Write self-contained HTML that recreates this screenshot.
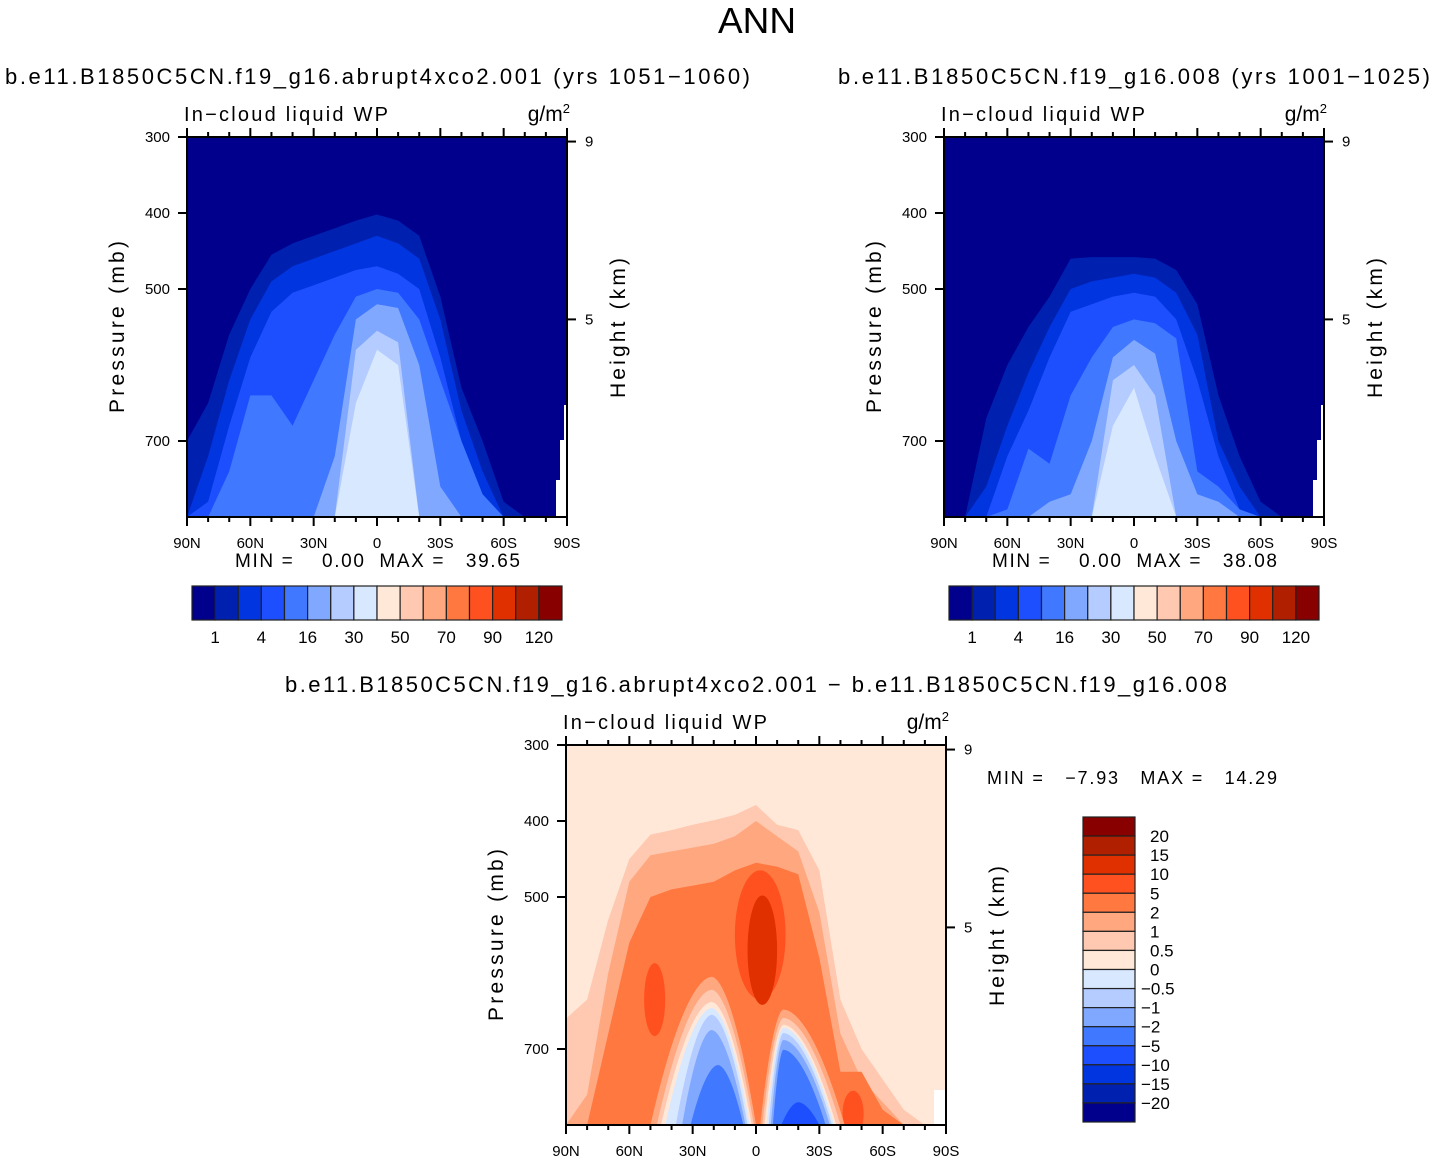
<!DOCTYPE html>
<html><head><meta charset="utf-8">
<style>
html,body{margin:0;padding:0;background:#fff;}
svg{display:block;font-family:"Liberation Sans",Arial,sans-serif;}
text{white-space:pre;}
</style></head>
<body>
<svg id="fig" width="1434" height="1163" viewBox="0 0 1434 1163" xmlns="http://www.w3.org/2000/svg">
<text x="757" y="33" font-size="36" text-anchor="middle" textLength="78" lengthAdjust="spacingAndGlyphs">ANN</text>
<text x="5" y="84" font-size="22" textLength="745" lengthAdjust="spacing">b.e11.B1850C5CN.f19_g16.abrupt4xco2.001 (yrs 1051−1060)</text>
<text x="838" y="84" font-size="22" textLength="592" lengthAdjust="spacing">b.e11.B1850C5CN.f19_g16.008 (yrs 1001−1025)</text>
<text x="285" y="692" font-size="22" textLength="942" lengthAdjust="spacing">b.e11.B1850C5CN.f19_g16.abrupt4xco2.001 − b.e11.B1850C5CN.f19_g16.008</text>
<g id="p1"></g>
<g id="p2"></g>
<g id="p3"></g>
</svg>
<script>
const NS="http://www.w3.org/2000/svg";
const colors=["#00008c","#0020b0","#0035e0","#1e4fff","#4078ff","#80a8ff","#b4ccff","#d8e8ff","#ffe8d8","#ffc8b0","#ffa880","#ff7840","#ff5020","#e03000","#b02000","#880000"];
const lats=[90,80,70,60,50,40,30,20,10,0,-10,-20,-30,-40,-50,-60,-70,-80,-90];
const xTickLabels=["90N","60N","30N","0","30S","60S","90S"];
const pTicks=[300,400,500,700];
const hTicks=[[9,306],[5,540]];
const cbLabelsAbs=["1","4","16","30","50","70","90","120"];
const cbLabelsDiff=["20","15","10","5","2","1","0.5","0","−0.5","−1","−2","−5","−10","−15","−20"];
// panel 1 level tops (mb) at lats
const p1L1=[700,650,560,500,455,440,430,420,410,402,410,430,510,630,700,780,800,800,800];
const p1L2=[800,720,620,540,490,470,460,450,440,430,440,460,540,660,740,800,800,800,800];
const p1L3=[800,780,680,590,530,505,495,485,475,470,480,500,590,700,770,800,800,800,800];
const p1L4=[800,800,740,640,640,680,620,560,510,500,505,540,620,700,770,800,800,800,800];
const p1L5=[800,800,800,800,800,800,800,720,540,520,525,600,760,800,800,800,800,800,800];
const p1L6=[800,800,800,800,800,800,800,800,580,555,570,800,800,800,800,800,800,800,800];
const p1L7=[800,800,800,800,800,800,800,800,650,580,600,800,800,800,800,800,800,800,800];
// panel 2
const p2L1=[800,800,670,600,550,510,460,458,458,458,460,475,520,640,720,780,800,800,800];
const p2L2=[800,800,760,680,610,550,500,490,485,480,485,505,560,700,760,800,800,800,800];
const p2L3=[800,800,800,720,660,590,530,520,510,505,510,540,620,720,790,800,800,800,800];
const p2L4=[800,800,800,790,710,730,640,590,550,540,545,565,740,760,790,800,800,800,800];
const p2L5=[800,800,800,800,800,780,770,700,590,567,585,700,770,780,800,800,800,800,800];
const p2L6=[800,800,800,800,800,800,800,800,620,600,640,800,800,800,800,800,800,800,800];
const p2L7=[800,800,800,800,800,800,800,800,680,630,720,800,800,800,800,800,800,800,800];
// panel 3 positive levels
const p3L1=[660,635,530,450,418,412,405,399,392,379,405,412,465,635,700,740,780,800,800];
const p3L2=[800,760,600,480,445,440,435,430,420,400,420,440,520,680,740,770,800,800,800];
const p3L3=[800,800,680,560,500,490,485,480,465,455,460,470,580,730,730,780,800,800,800];
// blobs: lat, p, lat radius, p radius, color index
const blobLat=[48,-2,-46,-3];
const blobP=[635,550,785,570];
const blobRLat=[5,12,5,7];
const blobRP=[48,85,30,72];
const blobColor=[12,12,12,13];
// negative mounds: left lat, peak lat, right lat, top p, color index
const moundLeft=[50,47,45,43,38,35,31,-2,-3,-4,-5,-6,-7,-8,-12];
const moundPeak=[21,21,21,21,21,21,18,-13,-13,-13,-13,-13,-13,-13,-20];
const moundRight=[0,1,2,3,4,5,6,-42,-40,-38,-37,-36,-35,-33,-30];
const moundTop=[605,622,638,646,655,675,721,648,659,668,672,679,688,701,770];
const moundColor=[10,9,8,7,6,5,4,10,9,8,7,6,5,4,3];

function el(tag,attrs,parent,name){const e=document.createElementNS(NS,tag);for(const k in attrs)e.setAttribute(k,attrs[k]);


parent.appendChild(e);return e;}

function makePanel(g,x0,y0,opts){
  const W=380,H=380;
  const X=lat=>x0+(90-lat)/180*W;
  const Y=p=>y0+(p-300)/500*H;
  const cp=el('clipPath',{id:'c'+opts.id},g,'clip');
  el('rect',{x:x0,y:y0,width:W,height:H},cp,'clip-rect');
  const plot=el('g',{'clip-path':'url(#c'+opts.id+')'},g,'contour-area');
  el('rect',{x:x0,y:y0,width:W,height:H,fill:colors[opts.bg]},plot,'background-level');
  opts.levels.forEach((arr,i)=>{
    let pts=[[X(90),Y(800)]];
    lats.forEach((la,j)=>pts.push([X(la),Y(arr[j])]));
    pts.push([X(-90),Y(800)]);
    el('polygon',{points:pts.map(q=>q.join(',')).join(' '),fill:colors[opts.levelColors[i]]},plot,'contour-level-'+(i+1));
  });
  if(opts.blobs){
    blobLat.forEach((la,i)=>{
      el('ellipse',{cx:X(la),cy:Y(blobP[i]),rx:blobRLat[i]/180*W,ry:blobRP[i]/500*H,fill:colors[blobColor[i]]},plot,'contour-blob');
    });
    moundLeft.forEach((l,i)=>{
      const pk=moundPeak[i],r=moundRight[i],top=moundTop[i];const pts=[];
      for(let k=0;k<=16;k++){const t=1-k/16;const la=pk+(l-pk)*t;pts.push([X(la),Y(top+(800-top)*Math.pow(t,1.8))]);}
      for(let k=1;k<=16;k++){const t=k/16;const la=pk+(r-pk)*t;pts.push([X(la),Y(top+(800-top)*Math.pow(t,1.8))]);}
      pts.push([X(r),Y(820)]);pts.push([X(l),Y(820)]);
      el('polygon',{points:pts.map(q=>q.join(',')).join(' '),fill:colors[moundColor[i]]},plot,'negative-contour');
    });
  }
  if(opts.mask){
    el('path',{d:`M${x0+369} ${y0+380} V${y0+343} H${x0+373} V${y0+303} H${x0+377} V${y0+268} H${x0+380} V${y0+380} Z`,fill:'#fff'},plot,'topography-mask');
  } else {
    el('rect',{x:x0+368,y:y0+345,width:12,height:35,fill:'#fff'},plot,'topography-mask');
  }
  el('rect',{x:x0,y:y0,width:W,height:H,fill:'none',stroke:'#000','stroke-width':2},g,'plot-frame');
  for(let k=0;k<=18;k++){const x=X(90-k*10);const major=k%3==0;const L=major?9:5;
    el('line',{x1:x,y1:y0+H,x2:x,y2:y0+H+L,stroke:'#000','stroke-width':2},g,'x-tick');
    el('line',{x1:x,y1:y0,x2:x,y2:y0-L,stroke:'#000','stroke-width':2},g,'x-tick-top');}
  xTickLabels.forEach((t,i)=>{const tx=el('text',{x:X(90-i*30),y:y0+H+31,'font-size':15,'text-anchor':'middle'},g,'x-tick-label');tx.textContent=t;});
  pTicks.forEach(p=>{el('line',{x1:x0,y1:Y(p),x2:x0-9,y2:Y(p),stroke:'#000','stroke-width':2},g,'y-tick');
    const tx=el('text',{x:x0-17,y:Y(p)+5,'font-size':15,'text-anchor':'end'},g,'y-tick-label');tx.textContent=p;});
  hTicks.forEach(h=>{const y=Y(h[1]);el('line',{x1:x0+W,y1:y,x2:x0+W+9,y2:y,stroke:'#000','stroke-width':2},g,'right-tick');
    const tx=el('text',{x:x0+W+18,y:y+5,'font-size':15},g,'right-tick-label');tx.textContent=h[0];});
  let t=el('text',{x:x0-3,y:y0-16,'font-size':20,textLength:204,lengthAdjust:'spacing'},g,'variable-name');t.textContent='In−cloud liquid WP';
  t=el('text',{x:x0+W+3,y:y0-16,'font-size':21,'text-anchor':'end'},g,'units');t.innerHTML='g/m<tspan dy="-8" font-size="13">2</tspan>';
  t=el('text',{x:0,y:0,'font-size':21,'text-anchor':'middle',textLength:172,lengthAdjust:'spacing',transform:`translate(${x0-63},${y0+190}) rotate(-90)`},g,'y-axis-title');t.textContent='Pressure (mb)';
  t=el('text',{x:0,y:0,'font-size':21,'text-anchor':'middle',textLength:140,lengthAdjust:'spacing',transform:`translate(${x0+W+58},${y0+191}) rotate(-90)`},g,'right-axis-title');t.textContent='Height (km)';
}

function hColorbar(g,x0,y0,minmax,mx){
  const w=370/16;
  let t=el('text',{x:mx,y:y0-19,'font-size':19,textLength:285,lengthAdjust:'spacing'},g,'min-max-label');t.textContent=minmax;
  colors.forEach((c,i)=>el('rect',{x:x0+i*w,y:y0,width:w,height:34,fill:c,stroke:'#222','stroke-width':1.2},g,'colorbar-box'));
  cbLabelsAbs.forEach((s,i)=>{const tx=el('text',{x:x0+(2*i+1)*w,y:y0+57,'font-size':17,'text-anchor':'middle'},g,'colorbar-label');tx.textContent=s;});
}

makePanel(document.getElementById('p1'),187,137,{id:1,bg:0,levels:[p1L1,p1L2,p1L3,p1L4,p1L5,p1L6,p1L7],levelColors:[1,2,3,4,5,6,7],mask:true});
makePanel(document.getElementById('p2'),944,137,{id:2,bg:0,levels:[p2L1,p2L2,p2L3,p2L4,p2L5,p2L6,p2L7],levelColors:[1,2,3,4,5,6,7],mask:true});
makePanel(document.getElementById('p3'),566,745,{id:3,bg:8,levels:[p3L1,p3L2,p3L3],levelColors:[9,10,11],blobs:true,mask:false});
hColorbar(document.getElementById('p1'),192,586,"MIN =    0.00  MAX =   39.65",235);
hColorbar(document.getElementById('p2'),949,586,"MIN =    0.00  MAX =   38.08",992);
const g3=document.getElementById('p3');
let t=el('text',{x:987,y:784,'font-size':18,textLength:290,lengthAdjust:'spacing'},g3,'min-max-label');t.textContent="MIN =   −7.93   MAX =   14.29";
const h=305/16;
colors.slice().reverse().forEach((c,i)=>el('rect',{x:1083,y:817+i*h,width:52,height:h,fill:c,stroke:'#222','stroke-width':1.2},g3,'colorbar-box'));
cbLabelsDiff.forEach((s,i)=>{const neg=s.startsWith('−');const tx=el('text',{x:neg?1141:1150,y:817+(i+1)*h+6,'font-size':17},g3,'colorbar-label');tx.textContent=s;});
</script>
</body></html>
